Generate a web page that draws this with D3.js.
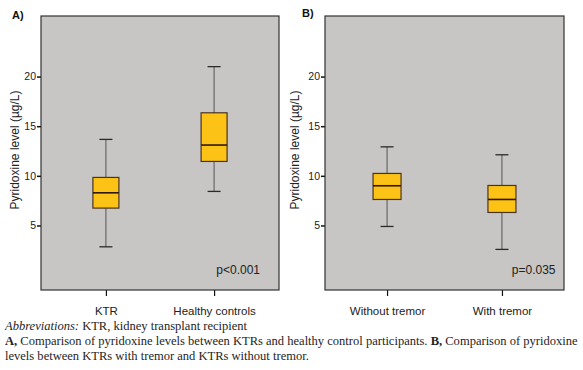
<!DOCTYPE html>
<html>
<head>
<meta charset="utf-8">
<title>Pyridoxine levels</title>
<script src="https://d3js.org/d3.v7.min.js"></script>
<style>
    html, body { margin: 0; padding: 0; background: white; }
    svg { display: block; }
</style>
</head>
<body>
<div id="graph"></div>
<script>
    // data
    var panelLabels = ["A)", "B)"];
    var pLabels = ["p<0.001", "p=0.035"];
    var yTicks = [5, 10, 15, 20];

    var groupsA = ["KTR", "Healthy controls"];
    var lowA    = [2.85, 8.43];
    var q1A     = [6.75, 11.45];
    var medA    = [8.29, 13.1];
    var q3A     = [9.84, 16.35];
    var highA   = [13.67, 21.0];

    var groupsB = ["Without tremor", "With tremor"];
    var lowB    = [4.9, 2.59];
    var q1B     = [7.62, 6.31];
    var medB    = [9.0, 7.62];
    var q3B     = [10.24, 9.03];
    var highB   = [12.92, 12.12];

    var yLabel = "Pyridoxine level (\u00b5g/L)";

    var W = 583, H = 370;
    var plotTop = 16, plotBottom = 290;

    var bgColor = "#c7c6c4", boxFill = "#fcc316", boxStroke = "#4a3322",
        medColor = "#2e170b", whiskColor = "#555";

    var svg = d3.select("#graph").append("svg")
        .attr("width", W).attr("height", H)
        .style("font-family", "'Liberation Sans', Arial, sans-serif");

    var y = d3.scaleLinear().domain([-1.5, 26.1]).range([plotBottom, plotTop]);

    function makeTable(groups, low, q1, med, q3, high) {
        return groups.map(function(g, i) {
            return {g: g, low: low[i], q1: q1[i], med: med[i], q3: q3[i], high: high[i]};
        });
    }

    var panels = [
        {label: panelLabels[0], p: pLabels[0], data: makeTable(groupsA, lowA, q1A, medA, q3A, highA),
         left: 41, right: 279, pad: 0.6, boxW: 26, labX: 12, labY: 19, titleX: 15, pRight: 19},
        {label: panelLabels[1], p: pLabels[1], data: makeTable(groupsB, lowB, q1B, medB, q3B, highB),
         left: 325, right: 564, pad: 0.54, boxW: 28, labX: 302, labY: 17, titleX: 295, pRight: 8.5}
    ];

    panels.forEach(function(P) {
        var g = svg.append("g");

        var x = d3.scalePoint()
            .domain(P.data.map(function(d) { return d.g; }))
            .range([P.left, P.right])
            .padding(P.pad);

        // background
        g.append("rect")
            .attr("x", P.left).attr("y", plotTop)
            .attr("width", P.right - P.left).attr("height", plotBottom - plotTop)
            .attr("fill", bgColor);

        // y axis
        var yAxis = d3.axisLeft(y).tickValues(yTicks).tickSize(4).tickPadding(1);
        var yg = g.append("g").attr("transform", "translate(" + P.left + ",0)").call(yAxis);
        yg.select(".domain").remove();
        yg.selectAll(".tick line").attr("stroke", "#111").attr("stroke-width", 1.5);
        yg.selectAll(".tick text").attr("fill", "#222").style("font-size", "10.5px")
            .style("font-family", "'Liberation Sans', Arial, sans-serif");

        // x axis
        var xAxis = d3.axisBottom(x).tickSize(6).tickPadding(11);
        var xg = g.append("g").attr("transform", "translate(0," + plotBottom + ")").call(xAxis);
        xg.select(".domain").remove();
        xg.selectAll(".tick line").attr("stroke", "#111").attr("stroke-width", 1.2);
        xg.selectAll(".tick text").attr("fill", "#222").style("font-size", "11.5px")
            .style("font-family", "'Liberation Sans', Arial, sans-serif");

        // whiskers
        g.selectAll(".whisk").data(P.data).enter().append("line")
            .attr("x1", function(d) { return x(d.g); })
            .attr("x2", function(d) { return x(d.g); })
            .attr("y1", function(d) { return y(d.low); })
            .attr("y2", function(d) { return y(d.high); })
            .attr("stroke", whiskColor).attr("stroke-width", 1);

        var capW = 13;
        ["low", "high"].forEach(function(k) {
            g.selectAll(".cap-" + k).data(P.data).enter().append("line")
                .attr("x1", function(d) { return x(d.g) - capW / 2; })
                .attr("x2", function(d) { return x(d.g) + capW / 2; })
                .attr("y1", function(d) { return y(d[k]); })
                .attr("y2", function(d) { return y(d[k]); })
                .attr("stroke", "#2a2a2a").attr("stroke-width", 1.3);
        });

        // boxes
        g.selectAll(".box").data(P.data).enter().append("rect")
            .attr("x", function(d) { return x(d.g) - P.boxW / 2; })
            .attr("y", function(d) { return y(d.q3); })
            .attr("width", P.boxW)
            .attr("height", function(d) { return y(d.q1) - y(d.q3); })
            .attr("fill", boxFill)
            .attr("stroke", boxStroke).attr("stroke-width", 1.2);

        // medians
        g.selectAll(".med").data(P.data).enter().append("line")
            .attr("x1", function(d) { return x(d.g) - P.boxW / 2; })
            .attr("x2", function(d) { return x(d.g) + P.boxW / 2; })
            .attr("y1", function(d) { return y(d.med); })
            .attr("y2", function(d) { return y(d.med); })
            .attr("stroke", medColor).attr("stroke-width", 1.6);

        // frame
        g.append("rect")
            .attr("x", P.left).attr("y", plotTop)
            .attr("width", P.right - P.left).attr("height", plotBottom - plotTop)
            .attr("fill", "none").attr("stroke", "#333").attr("stroke-width", 1.2);

        // p value
        g.append("text")
            .attr("x", P.right - P.pRight).attr("y", 274)
            .attr("text-anchor", "end")
            .attr("fill", "#222").style("font-size", "12px")
            .text(P.p);

        // y title
        g.append("text")
            .attr("transform", "translate(" + P.titleX + "," + 150 + ") rotate(-90)")
            .attr("text-anchor", "middle").attr("dy", "0.35em")
            .attr("fill", "#222").style("font-size", "12px")
            .text(yLabel);

        // panel label
        g.append("text")
            .attr("x", P.labX).attr("y", P.labY)
            .attr("fill", "#111").style("font-size", "11px").style("font-weight", "bold")
            .text(P.label);
    });

    // caption
    var cap = svg.append("g")
        .style("font-family", "'Liberation Serif', 'DejaVu Serif', serif")
        .attr("fill", "#1e1e1e");

    var l1 = cap.append("text").attr("x", 5).attr("y", 330);
    l1.append("tspan").style("font-style", "italic").text("Abbreviations:");
    l1.append("tspan").text(" KTR, kidney transplant recipient");

    var l2 = cap.append("text").attr("x", 5).attr("y", 345);
    l2.append("tspan").style("font-weight", "bold").text("A,");
    l2.append("tspan").text(" Comparison of pyridoxine levels between KTRs and healthy control participants. ");
    l2.append("tspan").style("font-weight", "bold").text("B,");
    l2.append("tspan").text(" Comparison of pyridoxine");

    var l3 = cap.append("text").attr("x", 5).attr("y", 360)
        .text("levels between KTRs with tremor and KTRs without tremor.");

    // size caption font so line 2 spans the page like the original
    cap.style("font-size", "10px");
    var w2 = l2.node().getComputedTextLength();
    var fs = 10 * 573 / w2;
    cap.style("font-size", fs + "px");
</script>
</body>
</html>
